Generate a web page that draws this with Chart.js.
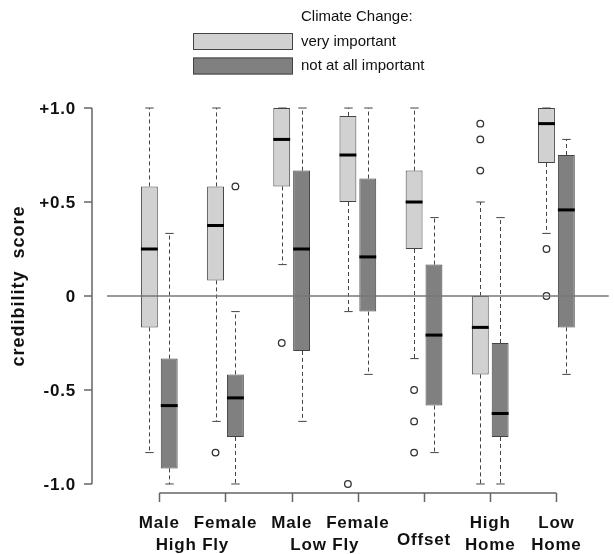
<!DOCTYPE html>
<html>
<head>
<meta charset="utf-8">
<title>Credibility score</title>
<script src="https://cdn.jsdelivr.net/npm/chart.js@4.4.1/dist/chart.umd.min.js"></script>
<style>
  html, body { margin: 0; padding: 0; background: #fff; }
  #wrap { width: 614px; height: 554px; position: relative; }
</style>
</head>
<body>
<div id="wrap"><canvas id="chart"></canvas></div>
<script>
// Groups along the x axis
var categories = ['Male High Fly', 'Female High Fly', 'Male Low Fly', 'Female Low Fly', 'Offset', 'High Home', 'Low Home'];
var tickLabelsTop = ['Male', 'Female', 'Male', 'Female', '', 'High', 'Low'];
var groupLabels = ['High Fly', 'Low Fly', 'Offset', 'Home', 'Home'];
var groupSpans = [[1, 2], [3, 4], [5, 5], [6, 6], [7, 7]];

var yTicks = [-1, -0.5, 0, 0.5, 1];
var yTickLabels = ['-1.0', '-0.5', '0', '+0.5', '+1.0'];

var legendTitle = 'Climate Change:';

// Climate change: very important
var veryMin = [-0.833, -0.667, 0.167, -0.083, -0.333, -1.0, 0.333];
var veryQ1 = [-0.167, 0.083, 0.583, 0.5, 0.25, -0.417, 0.708];
var veryMedian = [0.25, 0.375, 0.833, 0.75, 0.5, -0.167, 0.917];
var veryQ3 = [0.583, 0.583, 1.0, 0.958, 0.667, 0, 1.0];
var veryMax = [1.0, 1.0, 1.0, 1.0, 1.0, 0.5, 1.0];
var veryOutliers = [[], [-0.833], [-0.25], [-1.0], [-0.5, -0.667, -0.833], [0.667, 0.833, 0.917], [0.25, 0]];

// Climate change: not at all important
var notMin = [-1.0, -1.0, -0.667, -0.417, -0.833, -1.0, -0.417];
var notQ1 = [-0.917, -0.75, -0.292, -0.083, -0.583, -0.75, -0.167];
var notMedian = [-0.583, -0.542, 0.25, 0.208, -0.208, -0.625, 0.458];
var notQ3 = [-0.333, -0.417, 0.667, 0.625, 0.167, -0.25, 0.75];
var notMax = [0.333, -0.083, 1.0, 1.0, 0.417, 0.417, 0.833];
var notOutliers = [[], [0.583], [], [], [], [], []];

var FONT = '"Liberation Sans", Arial, Helvetica, sans-serif';
var LIGHT = '#d1d1d1';
var DARK = '#808080';
var EDGE = '#444';

function boxData(q1, q3) {
    return q1.map(function(v, i) { return {x: i + 1, y: [v, q3[i]]}; });
}

function outlierData(list, shift) {
    var pts = [];
    list.forEach(function(vals, i) {
        vals.forEach(function(v) { pts.push({x: i + 1 + shift, y: v}); });
    });
    return pts;
}

var boxStats = [
    {min: veryMin, med: veryMedian, max: veryMax, q1: veryQ1, q3: veryQ3},
    {min: notMin, med: notMedian, max: notMax, q1: notQ1, q3: notQ3}
];

// Whiskers, medians, zero line, R-style axes and legend
var boxplotExtras = {
    id: 'boxplotExtras',
    beforeDatasetsDraw: function(chart) {
        var ctx = chart.ctx, y = chart.scales.y;
        ctx.save();
        ctx.strokeStyle = '#444';
        ctx.lineWidth = 1;
        boxStats.forEach(function(s, di) {
            chart.getDatasetMeta(di).data.forEach(function(bar, i) {
                var cx = Math.round(bar.x) + 0.5, half = bar.width / 4;
                ctx.setLineDash([4, 3]);
                ctx.beginPath();
                ctx.moveTo(cx, y.getPixelForValue(s.q3[i]));
                ctx.lineTo(cx, y.getPixelForValue(s.max[i]));
                ctx.moveTo(cx, y.getPixelForValue(s.q1[i]));
                ctx.lineTo(cx, y.getPixelForValue(s.min[i]));
                ctx.stroke();
                ctx.setLineDash([]);
                ctx.beginPath();
                ctx.moveTo(cx - half, y.getPixelForValue(s.max[i]));
                ctx.lineTo(cx + half, y.getPixelForValue(s.max[i]));
                ctx.moveTo(cx - half, y.getPixelForValue(s.min[i]));
                ctx.lineTo(cx + half, y.getPixelForValue(s.min[i]));
                ctx.stroke();
            });
        });
        ctx.restore();
    },
    afterDatasetsDraw: function(chart) {
        var ctx = chart.ctx, y = chart.scales.y, x = chart.scales.x, area = chart.chartArea;
        ctx.save();
        // medians
        ctx.strokeStyle = '#000';
        ctx.lineWidth = 3;
        boxStats.forEach(function(s, di) {
            chart.getDatasetMeta(di).data.forEach(function(bar, i) {
                var py = y.getPixelForValue(s.med[i]);
                ctx.beginPath();
                ctx.moveTo(bar.x - bar.width / 2, py);
                ctx.lineTo(bar.x + bar.width / 2, py);
                ctx.stroke();
            });
        });
        // horizontal line at zero
        ctx.strokeStyle = '#777';
        ctx.lineWidth = 1.5;
        ctx.beginPath();
        ctx.moveTo(area.left, y.getPixelForValue(0));
        ctx.lineTo(area.right, y.getPixelForValue(0));
        ctx.stroke();

        // y axis
        var ax = area.left - 15;
        ctx.strokeStyle = '#666';
        ctx.beginPath();
        ctx.moveTo(ax, y.getPixelForValue(yTicks[yTicks.length - 1]));
        ctx.lineTo(ax, y.getPixelForValue(yTicks[0]));
        yTicks.forEach(function(t) {
            ctx.moveTo(ax - 8, y.getPixelForValue(t));
            ctx.lineTo(ax, y.getPixelForValue(t));
        });
        ctx.stroke();
        ctx.fillStyle = '#111';
        ctx.font = 'bold 17px ' + FONT;
        ctx.letterSpacing = '0.8px';
        ctx.textAlign = 'right';
        ctx.textBaseline = 'middle';
        yTicks.forEach(function(t, i) {
            ctx.fillText(yTickLabels[i], ax - 16, y.getPixelForValue(t) + 1);
        });

        // y title
        ctx.save();
        ctx.translate(19, 286);
        ctx.rotate(-Math.PI / 2);
        ctx.textAlign = 'center';
        ctx.font = 'bold 18px ' + FONT;
        ctx.letterSpacing = '1px';
        ctx.fillText('credibility  score', 0, 0);
        ctx.restore();

        // x axis
        var by = area.bottom;
        ctx.beginPath();
        ctx.moveTo(x.getPixelForValue(1), by);
        ctx.lineTo(x.getPixelForValue(categories.length), by);
        categories.forEach(function(c, i) {
            var px = Math.round(x.getPixelForValue(i + 1)) + 0.5;
            ctx.moveTo(px, by);
            ctx.lineTo(px, by + 9);
        });
        ctx.stroke();
        ctx.textAlign = 'center';
        ctx.font = 'bold 17px ' + FONT;
        ctx.letterSpacing = '0.8px';
        tickLabelsTop.forEach(function(t, i) {
            ctx.fillText(t, x.getPixelForValue(i + 1), by + 30);
        });
        groupLabels.forEach(function(t, i) {
            var mid = (groupSpans[i][0] + groupSpans[i][1]) / 2;
            var ly = tickLabelsTop[groupSpans[i][0] - 1] === '' ? by + 47 : by + 52;
            ctx.fillText(t, x.getPixelForValue(mid), ly);
        });
        ctx.restore();
    },
    afterDraw: function(chart) {
        var ctx = chart.ctx;
        ctx.save();
        ctx.font = '15px ' + FONT;
        ctx.fillStyle = '#111';
        ctx.textAlign = 'left';
        ctx.textBaseline = 'middle';
        ctx.fillText(legendTitle, 301, 17);
        chart.data.datasets.slice(0, 2).forEach(function(ds, i) {
            var top = 33 + i * 24.5;
            ctx.fillStyle = ds.backgroundColor;
            ctx.fillRect(193, top, 100, 17);
            ctx.strokeStyle = EDGE;
            ctx.lineWidth = 1;
            ctx.strokeRect(193.5, top + 0.5, 99, 16);
            ctx.fillStyle = '#111';
            ctx.fillText(ds.label, 301, top + 8.5);
        });
        ctx.restore();
    }
};

var ctx = document.getElementById('chart').getContext('2d');
var chart = new Chart(ctx, {
    type: 'bar',
    data: {
        datasets: [{
            label: 'very important',
            data: boxData(veryQ1, veryQ3),
            backgroundColor: LIGHT,
            borderColor: EDGE,
            borderWidth: 1,
            borderSkipped: false,
            categoryPercentage: 0.6,
            barPercentage: 0.85
        }, {
            label: 'not at all important',
            data: boxData(notQ1, notQ3),
            backgroundColor: DARK,
            borderColor: EDGE,
            borderWidth: 1,
            borderSkipped: false,
            categoryPercentage: 0.6,
            barPercentage: 0.85
        }, {
            type: 'scatter',
            label: 'very important outliers',
            data: outlierData(veryOutliers, -0.15),
            pointRadius: 3.3,
            pointBorderWidth: 1.3,
            pointBackgroundColor: 'rgba(0,0,0,0)',
            pointBorderColor: '#333'
        }, {
            type: 'scatter',
            label: 'not at all important outliers',
            data: outlierData(notOutliers, 0.15),
            pointRadius: 3.3,
            pointBorderWidth: 1.3,
            pointBackgroundColor: 'rgba(0,0,0,0)',
            pointBorderColor: '#333'
        }]
    },
    options: {
        responsive: true,
        maintainAspectRatio: false,
        animation: false,
        layout: { padding: { left: 107, right: 0, top: 99, bottom: 61 } },
        plugins: {
            legend: { display: false },
            tooltip: { enabled: false }
        },
        scales: {
            x: {
                type: 'linear', min: 0.21, max: 7.79, offset: false, display: false,
                ticks: { stepSize: 1, includeBounds: false }
            },
            y: { type: 'linear', min: -1.048, max: 1.048, display: false }
        }
    },
    plugins: [boxplotExtras]
});
</script>
</body>
</html>
